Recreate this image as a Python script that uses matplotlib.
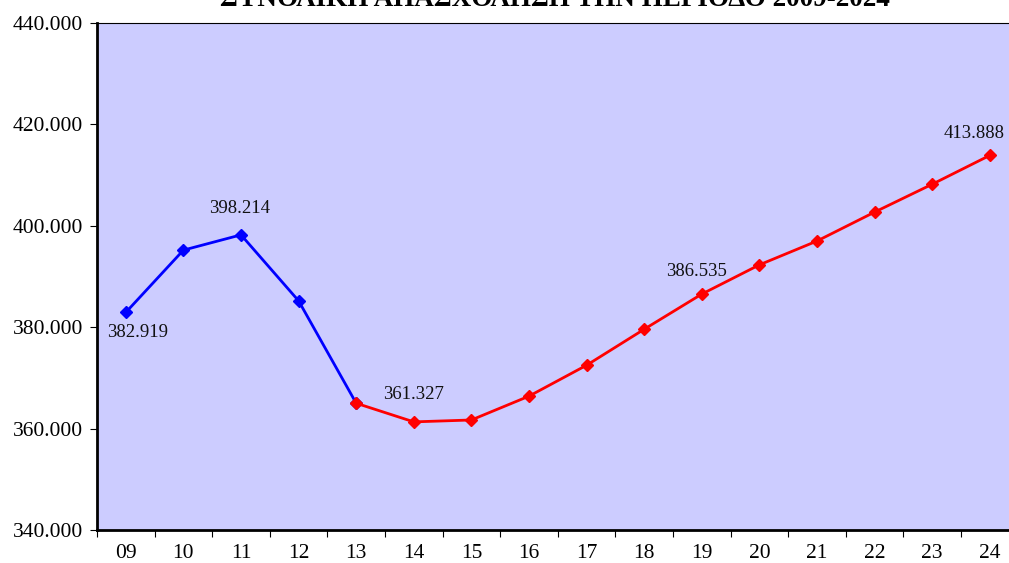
import numpy as np
import matplotlib.pyplot as plt

# Total employment per year (persons)
years = ["09", "10", "11", "12", "13", "14", "15", "16",
         "17", "18", "19", "20", "21", "22", "23", "24"]
employment = [382919, 395200, 398214, 385200, 365000, 361327, 361700, 366400,
              372500, 379600, 386535, 392300, 397000, 402700, 408200, 413888]

blue_years = years[:5]      # 2009-2013
red_start = 4               # red segment starts at 2013

# which points get a value label, with offset in pixels (dx, dy)
label_offsets = {0: (12, -20), 2: (-1, 26), 5: (0, 27), 10: (-5, 23), 15: (-16, 22)}

AX_BG = "#CCCCFF"


def fmt(v):
    return f"{v:,}".replace(",", ".")


plt.rcParams["font.family"] = ["Liberation Serif", "DejaVu Serif"]

fig = plt.figure(figsize=(10.09, 5.63), dpi=100)
ax = fig.add_axes([97 / 1009, 33 / 563, 921.6 / 1009, 507 / 563])
ax.set_facecolor(AX_BG)

x = np.arange(len(years))
ax.plot(x[:len(blue_years)], employment[:len(blue_years)], color="#0000FF",
        lw=2, marker="D", ms=6, zorder=3)
ax.plot(x[red_start:], employment[red_start:], color="#FF0000",
        lw=2, marker="D", ms=6, zorder=3)

px = 0.72  # points per pixel
for i, (dx, dy) in label_offsets.items():
    ax.annotate(fmt(employment[i]), (x[i], employment[i]),
                xytext=(dx * px, dy * px), textcoords="offset points",
                ha="center", va="center", fontsize=13.5, color="#111111")

ax.set_xlim(-0.5, len(years) - 0.5)
ax.set_ylim(340000, 440000)
yt = np.arange(340000, 440001, 20000)
ax.set_yticks(yt)
ax.set_yticklabels([fmt(int(v)) for v in yt], fontsize=15.5)
ax.set_xticks(x)
ax.set_xticklabels(years, fontsize=15.5)
ax.set_xticks(np.arange(-0.5, len(years), 1), minor=True)
ax.tick_params(axis="x", which="major", length=0, pad=10)
ax.tick_params(axis="x", which="minor", length=5, width=0.8, direction="out")
ax.tick_params(axis="y", length=5, width=0.8, direction="out", pad=5)

for s in ["left", "bottom"]:
    ax.spines[s].set_linewidth(2)
ax.spines["top"].set_linewidth(0.8)
ax.spines["right"].set_linewidth(0.8)

fig.text(0.55, 1.0, "ΣΥΝΟΛΙΚΗ ΑΠΑΣΧΟΛΗΣΗ ΤΗΝ ΠΕΡΙΟΔΟ 2009-2024",
         ha="center", va="center", fontsize=19.5, fontweight="bold")

fig.savefig("out.png", dpi=100, facecolor="white")
